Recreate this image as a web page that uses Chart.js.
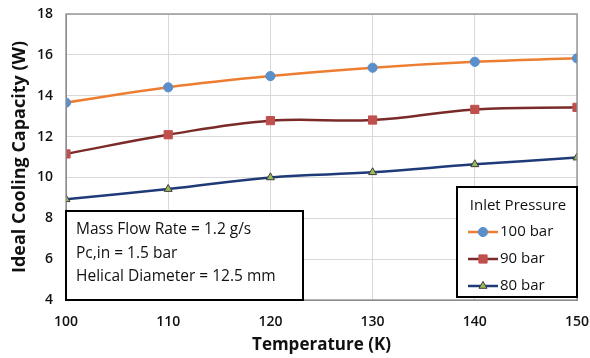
<!DOCTYPE html>
<html><head><meta charset="utf-8">
<script src="https://cdn.jsdelivr.net/npm/chart.js@4"></script>
<style>html,body{margin:0;padding:0;background:#fff}#wrap{width:590px;height:358px}</style>
</head><body><div id="wrap"><canvas id="c" width="590" height="358"></canvas></div>
<script>
const temperatures = [100, 110, 120, 130, 140, 150];
const p100 = [13.66, 14.41, 14.96, 15.37, 15.66, 15.83];
const p90 = [11.15, 12.09, 12.78, 12.81, 13.33, 13.43];
const p80 = [8.93, 9.43, 10.0, 10.25, 10.64, 10.97];
const seriesNames = ['100 bar', '90 bar', '80 bar'];
const legendTitle = 'Inlet Pressure';
const noteLines = ['Mass Flow Rate = 1.2 g/s', 'Pc,in = 1.5 bar', 'Helical Diameter = 12.5 mm'];
const yTitle = 'Ideal Cooling Capacity (W)';
const xTitle = 'Temperature (K)';

const FONT = "'Open Sans', sans-serif";
const styles = [
  {line:'#ED7D31', fill:'#5B8FCB', border:'#5B8FCB', ps:'circle', r:4.6},
  {line:'#7A2A28', fill:'#C0504D', border:'#C0504D', ps:'rect', r:5.8},
  {line:'#1F3A78', fill:'#9BBB59', border:'#3b3b3b', ps:'triangle', r:4.6}
];
const vals = [p100, p90, p80];

const boxes = {
  id:'boxes',
  afterDraw(chart){
    const ctx = chart.ctx, a = chart.chartArea;
    ctx.save();
    ctx.strokeStyle = '#8c8c8c'; ctx.lineWidth = 1.3;
    ctx.strokeRect(a.left, a.top, a.right - a.left, a.bottom - a.top);
    // note box
    ctx.fillStyle = '#fff';
    ctx.fillRect(66, 211, 237, 89);
    ctx.strokeStyle = '#000'; ctx.lineWidth = 2;
    ctx.strokeRect(66, 211, 237, 89);
    ctx.fillStyle = '#111';
    ctx.font = "15.5px " + FONT;
    ctx.textBaseline = 'middle'; ctx.textAlign = 'left';
    const ys = [230, 254, 277];
    noteLines.forEach((t,i)=>ctx.fillText(t, 76, ys[i], 200));
    // legend box
    ctx.fillStyle = '#fff';
    ctx.fillRect(457, 187, 120, 110);
    ctx.strokeRect(457, 187, 120, 110);
    ctx.fillStyle = '#111';
    ctx.textAlign = 'center';
    ctx.font = "15px " + FONT;
    ctx.fillText(legendTitle, 518, 206, 104);
    ctx.textAlign = 'left';
    const ly = [232, 259, 286];
    seriesNames.forEach((n,i)=>{
      const s = styles[i];
      ctx.strokeStyle = s.line; ctx.lineWidth = 2.5;
      ctx.beginPath(); ctx.moveTo(468, ly[i]); ctx.lineTo(498, ly[i]); ctx.stroke();
      ctx.fillStyle = s.fill; ctx.strokeStyle = s.border; ctx.lineWidth = 1;
      Chart.helpers.drawPoint(ctx, {pointStyle:s.ps, radius:s.r, rotation:0, borderWidth:1}, 483, ly[i]);
      ctx.fillStyle = '#111';
      ctx.fillText(n, 500, ly[i]);
    });
    ctx.restore();
  }
};

new Chart(document.getElementById('c'), {
  type:'line',
  data:{
    labels: temperatures,
    datasets: vals.map((v,i)=>({
      label: seriesNames[i], data: v,
      borderColor: styles[i].line, borderWidth: 2.5,
      backgroundColor: styles[i].fill,
      pointBackgroundColor: styles[i].fill,
      pointBorderColor: styles[i].border,
      pointBorderWidth: 1,
      pointStyle: styles[i].ps, pointRadius: styles[i].r,
      tension: 0.4, fill:false
    }))
  },
  options:{
    responsive:false, animation:false,
    layout:{padding:{left:0, right:13, top:14, bottom:0}},
    plugins:{legend:{display:false}, tooltip:{enabled:false}},
    scales:{
      x:{
        type:'linear', min:100, max:150,
        afterFit(s){ s.height = 58; s.paddingLeft = 0; s.paddingRight = 0; },
        ticks:{stepSize:10, padding:14, color:'#111', font:{family:FONT, size:14, weight:'600'}},
        grid:{color:'#d9d9d9', drawTicks:false},
        border:{color:'#8c8c8c'},
        title:{display:true, text:xTitle, color:'#111', font:{family:FONT, size:17, weight:'bold'}, padding:{top:0,bottom:3}}
      },
      y:{
        min:4, max:18,
        afterFit(s){ s.width = 66; s.paddingTop = 0; s.paddingBottom = 0; },
        ticks:{stepSize:2, padding:13, color:'#111', font:{family:FONT, size:14, weight:'600'}},
        grid:{color:'#d9d9d9', drawTicks:false},
        border:{color:'#8c8c8c'},
        title:{display:true, text:yTitle, color:'#111', font:{family:FONT, size:18, weight:'bold'}, padding:{top:9,bottom:0}}
      }
    }
  },
  plugins:[boxes]
});
</script>
</body></html>
